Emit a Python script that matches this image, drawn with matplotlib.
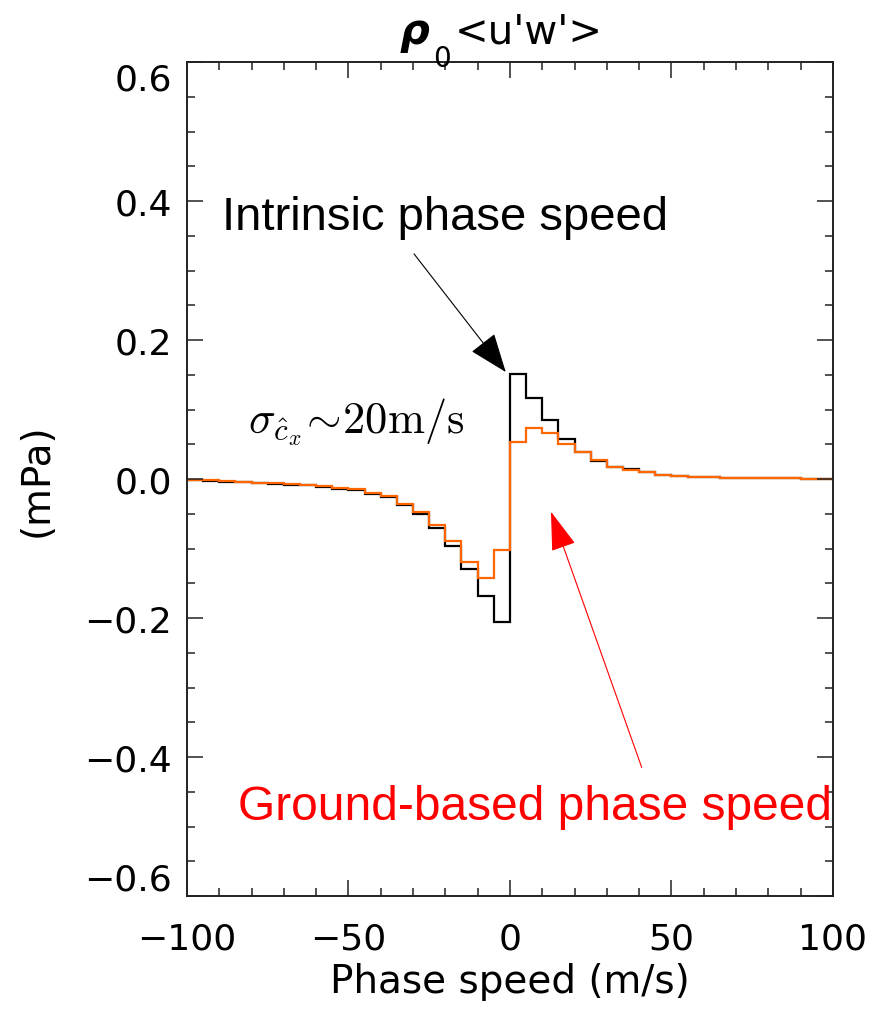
import matplotlib
matplotlib.use('Agg')
import matplotlib.pyplot as plt
from matplotlib.ticker import MultipleLocator
import numpy as np

plt.rcParams['mathtext.fontset'] = 'cm'

# phase speed bins (m/s), 5 m/s wide
bin_edges = np.arange(-100, 101, 5)

# rho0 <u'w'> (mPa) per bin, intrinsic phase speed
intrinsic = [-0.002, -0.003, -0.004, -0.004, -0.006, -0.007, -0.008, -0.009, -0.011, -0.014,
             -0.016, -0.021, -0.026, -0.038, -0.050, -0.071, -0.096, -0.129, -0.169, -0.206,
             0.151, 0.117, 0.085, 0.058, 0.039, 0.026, 0.017, 0.014, 0.010, 0.0065,
             0.0045, 0.0032, 0.0025, 0.002, 0.0015, 0.0012, 0.001, 0.0008, 0.0006, 0.0005]

# rho0 <u'w'> (mPa) per bin, ground-based phase speed
ground = [-0.001, -0.002, -0.003, -0.004, -0.005, -0.006, -0.007, -0.009, -0.010, -0.013,
          -0.015, -0.020, -0.025, -0.036, -0.047, -0.066, -0.089, -0.119, -0.142, -0.102,
          0.053, 0.073, 0.066, 0.051, 0.039, 0.028, 0.017, 0.013, 0.0095, 0.0065,
          0.0045, 0.0032, 0.0025, 0.002, 0.0015, 0.0012, 0.001, 0.0008, 0.0006, 0.0005]

xticks = [-100, -50, 0, 50, 100]
yticks = [-0.6, -0.4, -0.2, 0.0, 0.2, 0.4, 0.6]

fig = plt.figure(figsize=(8.72, 10.12), dpi=100)
ax = fig.add_axes([0.2144, 0.1136, 0.7408, 0.8241])

ax.stairs(intrinsic, bin_edges, color='black', linewidth=1.6, baseline=None)
ax.stairs(ground, bin_edges, color='#ff6600', linewidth=1.6, baseline=None)

ax.set_xlim(-100, 100)
ax.set_ylim(-0.6, 0.6)
ax.set_xticks(xticks)
ax.set_xticklabels([f'{v:d}'.replace('-', '\u2212') for v in xticks])
ax.set_yticks(yticks)
ax.set_yticklabels([f'{v:.1f}'.replace('-', '\u2212') for v in yticks])
ax.xaxis.set_minor_locator(MultipleLocator(10))
ax.yaxis.set_minor_locator(MultipleLocator(0.05))

for s in ax.spines.values():
    s.set_linewidth(1.4)
    s.set_color('#222222')
ax.tick_params(which='both', direction='in', top=True, right=True, width=1.1, color='#222222')
ax.tick_params(which='major', length=11.5, labelsize=26)
ax.tick_params(which='minor', length=5.5)
ax.tick_params(axis='x', which='major', pad=18)
ax.tick_params(axis='y', which='major', pad=11)

ylabs = ax.get_yticklabels()
ylabs[0].set_va('bottom')
ylabs[-1].set_va('top')

ax.set_xlabel('Phase speed (m/s)', fontsize=28)
ax.xaxis.set_label_coords(0.5, -0.079)
ax.set_ylabel('(mPa)', fontsize=28)
ax.yaxis.set_label_coords(-0.204, 0.5)

# title rho_0 <u'w'>
fig.text(400 / 872, 1 - 44 / 1012, '\u03c1', fontsize=30, fontstyle='italic', fontweight='bold',
         ha='left', va='baseline')
fig.text(433 / 872, 1 - 67 / 1012, '0', fontsize=20, ha='left', va='baseline')
fig.text(455 / 872, 1 - 43 / 1012, "<u'w'>", fontsize=29, ha='left', va='baseline')

# annotations
ax.text(-89.2, 0.360, 'Intrinsic phase speed', fontsize=34, family='Liberation Sans',
        ha='left', va='baseline')
ax.text(-84.2, -0.489, 'Ground-based phase speed', fontsize=34.5, family='Liberation Sans',
        color='red', ha='left', va='baseline')
ax.text(-81.1, 0.068, r'$\sigma_{\hat{c}_x}\!\sim\!20\mathrm{m/s}$', fontsize=32,
        ha='left', va='baseline')

ax.annotate('', xy=(-1.3, 0.154), xytext=(-29.7, 0.324),
            arrowprops=dict(arrowstyle='-|>,head_length=1.0,head_width=0.38', mutation_scale=25,
                            color='black', linewidth=0.8, shrinkA=0, shrinkB=0))
ax.annotate('', xy=(12.7, -0.047), xytext=(40.8, -0.415),
            arrowprops=dict(arrowstyle='-|>,head_length=1.0,head_width=0.32', mutation_scale=25,
                            color='red', linewidth=0.8, shrinkA=0, shrinkB=0))

fig.savefig('out.png', dpi=100)
